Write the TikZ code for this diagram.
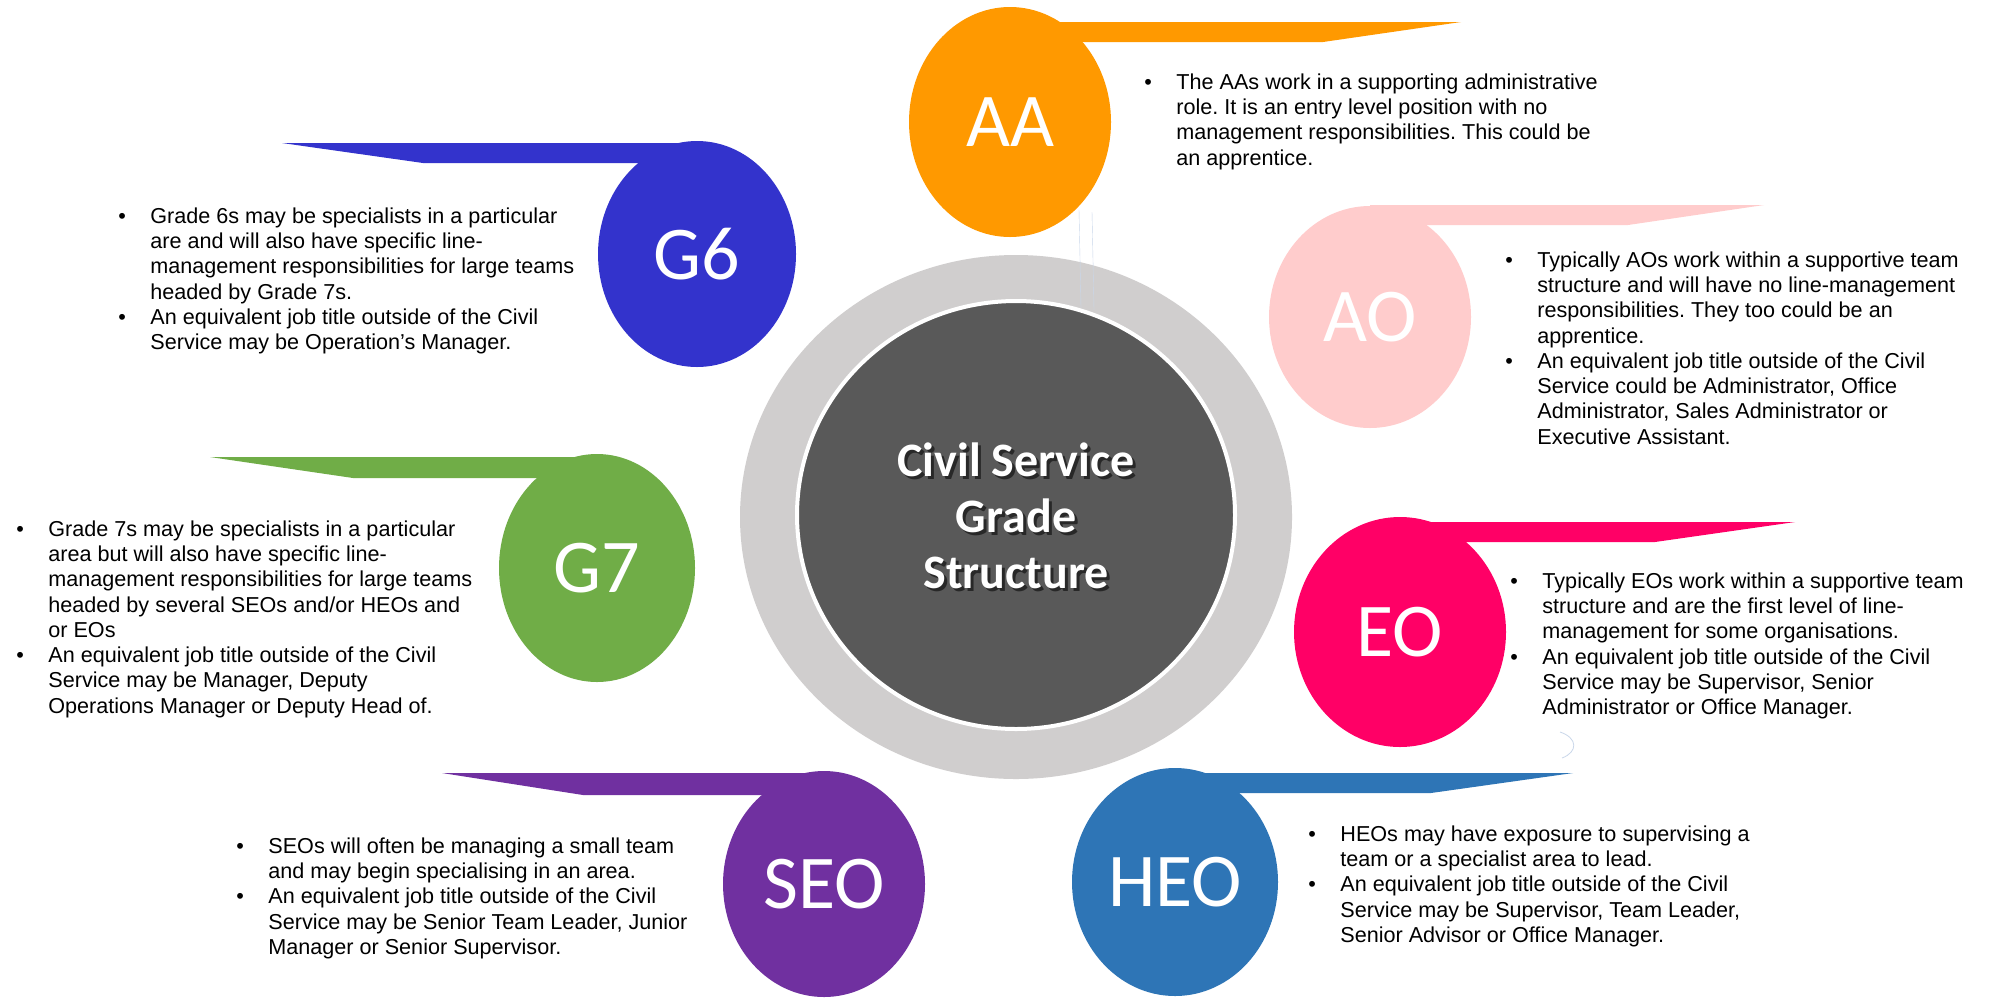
\documentclass[tikz,border=0pt]{standalone}
\usepackage{fontspec}
\setmainfont{Liberation Sans}
\newfontfamily\labelfont{Carlito}
\usetikzlibrary{shapes.geometric}
\frenchspacing

\definecolor{aaorange}{HTML}{FF9900}
\definecolor{aopink}{HTML}{FFCCCC}
\definecolor{eopink}{HTML}{FF0066}
\definecolor{heoblue}{HTML}{2E75B6}
\definecolor{seopurple}{HTML}{7030A0}
\definecolor{gsevengreen}{HTML}{70AD47}
\definecolor{gsixblue}{HTML}{3333CC}
\definecolor{ringgrey}{HTML}{D0CECE}
\definecolor{coregrey}{HTML}{595959}
\definecolor{glitchblue}{HTML}{C9D7EA}

\tikzset{
  grade/.style={ellipse, inner sep=0pt, text=white,
    font=\labelfont\fontsize{38}{40}\selectfont},
  blurb/.style={anchor=north west, inner sep=0pt,
    font=\fontsize{10.8}{12.65}\selectfont}
}
\newcommand{\points}[1]{\begin{tabular}{@{}p{16pt}@{}l@{}}#1\end{tabular}}

\begin{document}
\begin{tikzpicture}[x=0.5pt,y=-0.5pt]
\fill[white] (0,0) rectangle (2000,997);
\useasboundingbox (0,0) rectangle (2000,997);

% centre ring
\node[ellipse, fill=ringgrey, inner sep=0pt, minimum width=276pt, minimum height=262pt] (ring) at (1016,517) {};
\node[ellipse, fill=coregrey, draw=white, line width=2pt, inner sep=0pt, minimum width=219pt, minimum height=214pt] (core) at (1016,515) {};
\node[align=center, text=black, opacity=.55, font=\labelfont\bfseries\fontsize{24}{28}\selectfont] (titleshadow) at (1019,519) {Civil Service\\Grade\\Structure};
\node[align=center, text=white, font=\labelfont\bfseries\fontsize{24}{28}\selectfont] (title) at (1016,516) {Civil Service\\Grade\\Structure};

% faint marks
\draw[glitchblue, very thin] (1079,210) -- (1081,308);
\draw[glitchblue, very thin] (1092,212) -- (1094,310);
\draw[glitchblue, thin] (1560,732) .. controls (1578,738) and (1578,752) .. (1562,758);

% tabs: centre x / top / bottom / slant start / tip / colour
\foreach \cx/\top/\bot/\slant/\tip/\col in {
  1010/22/42/1323/1461/aaorange,
  1370/205/225/1628/1764/aopink,
  1403/522/542/1655/1795/eopink,
  1175/773/793/1431/1573/heoblue,
  825/773/795/583/442/seopurple,
  597/457/478/353/210/gsevengreen,
  697/143/163/423/282/gsixblue}
  \fill[\col] (\cx,\top) -- (\tip,\top) -- (\slant,\bot) -- (\cx,\bot) -- cycle;

% grade circles
\node[grade, fill=aaorange, minimum width=101pt, minimum height=115pt] (aa) at (1010,122) {AA};
\node[grade, fill=aopink, minimum width=101pt, minimum height=111pt] (ao) at (1370,317) {AO};
\node[grade, fill=eopink, minimum width=106pt, minimum height=115pt] (eo) at (1400,632) {EO};
\node[grade, fill=heoblue, minimum width=103pt, minimum height=114pt] (heo) at (1175,882) {HEO};
\node[grade, fill=seopurple, minimum width=101pt, minimum height=113pt] (seo) at (824,884) {SEO};
\node[grade, fill=gsevengreen, minimum width=98pt, minimum height=114pt] (gseven) at (597,568) {G7};
\node[grade, fill=gsixblue, minimum width=99pt, minimum height=113pt] (gsix) at (697,254) {G6};

% text
\node[blurb] (aatext) at (1144,71) {\points{
  \textbullet & The AAs work in a supporting administrative\\
  & role. It is an entry level position with no\\
  & management responsibilities. This could be\\
  & an apprentice.}};
\node[blurb] (aotext) at (1505,249) {\points{
  \textbullet & Typically AOs work within a supportive team\\
  & structure and will have no line-management\\
  & responsibilities. They too could be an\\
  & apprentice.\\
  \textbullet & An equivalent job title outside of the Civil\\
  & Service could be Administrator, Office\\
  & Administrator, Sales Administrator or\\
  & Executive Assistant.}};
\node[blurb] (eotext) at (1510,570) {\points{
  \textbullet & Typically EOs work within a supportive team\\
  & structure and are the first level of line-\\
  & management for some organisations.\\
  \textbullet & An equivalent job title outside of the Civil\\
  & Service may be Supervisor, Senior\\
  & Administrator or Office Manager.}};
\node[blurb] (heotext) at (1308,823) {\points{
  \textbullet & HEOs may have exposure to supervising a\\
  & team or a specialist area to lead.\\
  \textbullet & An equivalent job title outside of the Civil\\
  & Service may be Supervisor, Team Leader,\\
  & Senior Advisor or Office Manager.}};
\node[blurb] (seotext) at (236,835) {\points{
  \textbullet & SEOs will often be managing a small team\\
  & and may begin specialising in an area.\\
  \textbullet & An equivalent job title outside of the Civil\\
  & Service may be Senior Team Leader, Junior\\
  & Manager or Senior Supervisor.}};
\node[blurb] (gsixtext) at (118,205) {\points{
  \textbullet & Grade 6s may be specialists in a particular\\
  & are and will also have specific line-\\
  & management responsibilities for large teams\\
  & headed by Grade 7s.\\
  \textbullet & An equivalent job title outside of the Civil\\
  & Service may be Operation’s Manager.}};
\node[blurb] (gseventext) at (16,518) {\points{
  \textbullet & Grade 7s may be specialists in a particular\\
  & area but will also have specific line-\\
  & management responsibilities for large teams\\
  & headed by several SEOs and/or HEOs and\\
  & or EOs\\
  \textbullet & An equivalent job title outside of the Civil\\
  & Service may be Manager, Deputy\\
  & Operations Manager or Deputy Head of.}};
\end{tikzpicture}
\end{document}
